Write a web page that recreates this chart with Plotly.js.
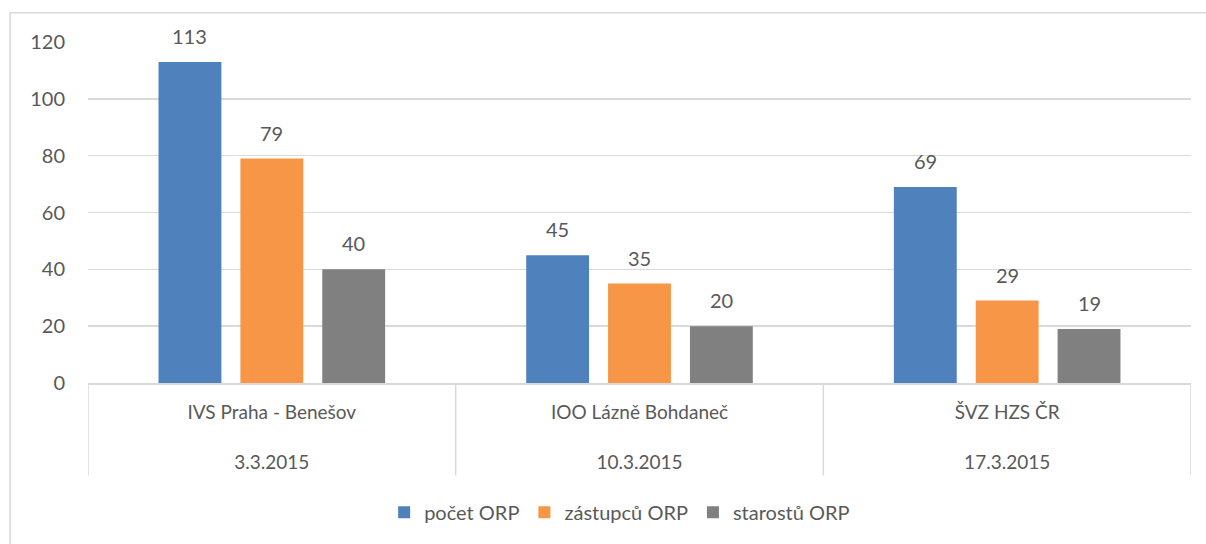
<!DOCTYPE html>
<html>
<head>
<meta charset="utf-8">
<script src="https://cdn.plot.ly/plotly-3.0.1.min.js"></script>
<style>
html,body{margin:0;padding:0;background:#fff;}
#chart{width:1206px;height:544px;}
</style>
</head>
<body>
<div id="chart"></div>
<script>
// ---- data ----
const categories = ['IVS Praha - Benešov', 'IOO Lázně Bohdaneč', 'ŠVZ HZS ČR'];
const dates = ['3.3.2015', '10.3.2015', '17.3.2015'];
const seriesNames = ['počet ORP', 'zástupců ORP', 'starostů ORP'];
const pocetORP = [113, 45, 69];
const zastupcuORP = [79, 35, 29];
const starostuORP = [40, 20, 19];
const yTicks = [0, 20, 40, 60, 80, 100, 120];

// ---- style ----
const colors = ['#4F81BD', '#F79646', '#808080'];
const textColor = '#595959';
const gridColor = '#D9D9D9';
const fontFamily = 'Lato, "Open Sans", sans-serif';
const bargap = 0.332;
const bargroupgap = 0.232;

const seriesValues = [pocetORP, zastupcuORP, starostuORP];
const idx = categories.map((_, i) => i);

const traces = seriesValues.map((vals, j) => ({
  type: 'bar',
  name: seriesNames[j],
  x: idx,
  y: vals,
  marker: {color: colors[j]},
  hoverinfo: 'y'
}));

const slot = (1 - bargap) / seriesValues.length;
const annotations = [];
seriesValues.forEach((vals, j) => {
  vals.forEach((v, i) => {
    annotations.push({
      x: i + (j - (seriesValues.length - 1) / 2) * slot,
      y: v,
      xref: 'x', yref: 'y',
      text: String(v),
      showarrow: false,
      yanchor: 'middle',
      yshift: 26,
      font: {family: fontFamily, size: 20, color: textColor}
    });
  });
});

const shapes = [];
// category dividers
for (let k = 0; k <= categories.length; k++) {
  shapes.push({
    type: 'line', xref: 'x', yref: 'paper',
    x0: k - 0.5, x1: k - 0.5, y0: 0, y1: -0.271,
    line: {color: gridColor, width: 1.5}
  });
}
// chart area border (left + top visible)
shapes.push({
  type: 'rect', xref: 'paper', yref: 'paper',
  x0: -0.0707, x1: 1.1, y0: -0.6, y1: 1.0855,
  line: {color: gridColor, width: 1.5}, fillcolor: 'rgba(0,0,0,0)'
});

const layout = {
  width: 1206, height: 544,
  margin: {l: 88, r: 15, t: 42, b: 159},
  paper_bgcolor: '#ffffff',
  plot_bgcolor: '#ffffff',
  font: {family: fontFamily, size: 20, color: textColor},
  barmode: 'group',
  bargap: bargap,
  bargroupgap: bargroupgap,
  showlegend: true,
  legend: {
    orientation: 'h',
    x: 0.482, xanchor: 'center',
    y: -0.379, yanchor: 'middle',
    font: {family: fontFamily, size: 20, color: textColor},
    itemwidth: 30,
    traceorder: 'normal'
  },
  xaxis: {
    type: 'linear',
    range: [-0.5, categories.length - 0.5],
    tickmode: 'array',
    tickvals: idx,
    ticktext: categories.map((c, i) => c + '<br><br>' + dates[i]),
    ticks: '',
    ticklabelstandoff: 12,
    showgrid: false,
    zeroline: false,
    showline: true,
    linecolor: gridColor,
    linewidth: 1.5,
    tickfont: {family: fontFamily, size: 19, color: textColor},
    fixedrange: true
  },
  yaxis: {
    range: [0, 120],
    tickmode: 'array',
    tickvals: yTicks,
    ticks: '',
    ticklabelstandoff: 22,
    showgrid: true,
    gridcolor: gridColor,
    gridwidth: 1.5,
    zeroline: false,
    showline: false,
    tickfont: {family: fontFamily, size: 20, color: textColor},
    fixedrange: true
  },
  annotations: annotations,
  shapes: shapes
};

Plotly.newPlot('chart', traces, layout, {displayModeBar: false, staticPlot: true});
</script>
</body>
</html>
